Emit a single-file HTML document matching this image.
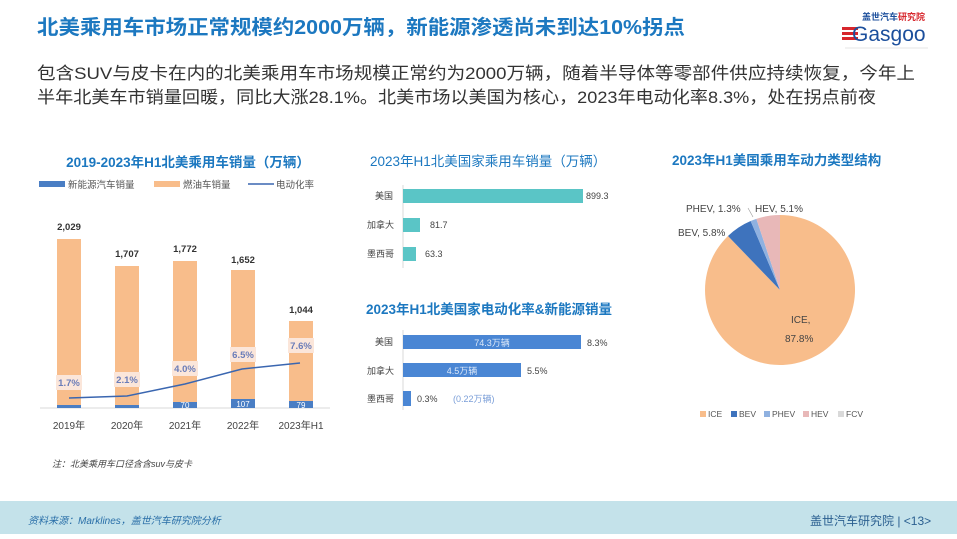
<!DOCTYPE html>
<html><head><meta charset="utf-8"><style>
body{margin:0;width:957px;height:534px;overflow:hidden;background:#fff;font-family:"Liberation Sans","Noto Sans CJK SC",sans-serif;}
svg text{font-family:"Liberation Sans","Noto Sans CJK SC",sans-serif;}
</style></head><body>
<svg width="957" height="534" viewBox="0 0 957 534" xmlns="http://www.w3.org/2000/svg">
<rect width="957" height="534" fill="#fff"/>
<!-- header -->
<text x="37" y="34" font-size="20" font-weight="bold" fill="#1c78c0" textLength="648" lengthAdjust="spacingAndGlyphs">北美乘用车市场正常规模约2000万辆，新能源渗透尚未到达10%拐点</text>
<text x="862" y="20" font-size="9" font-weight="bold" fill="#1c4f9c">盖世汽车<tspan fill="#d7262c">研究院</tspan></text>
<rect x="842" y="27" width="16" height="3" fill="#d7262c"/><rect x="842" y="32" width="16" height="3" fill="#d7262c"/><rect x="842" y="37" width="16" height="3" fill="#d7262c"/>
<text x="852" y="41" font-size="21" fill="#1c4f9c" font-family="Liberation Serif">Gasgoo</text>
<line x1="845" y1="48" x2="928" y2="48" stroke="#ccc" stroke-width="0.6"/>
<text x="37" y="79" font-size="17" fill="#333" textLength="878" lengthAdjust="spacingAndGlyphs">包含SUV与皮卡在内的北美乘用车市场规模正常约为2000万辆，随着半导体等零部件供应持续恢复，今年上</text>
<text x="37" y="103" font-size="17" fill="#333" textLength="839" lengthAdjust="spacingAndGlyphs">半年北美车市销量回暖，同比大涨28.1%。北美市场以美国为核心，2023年电动化率8.3%，处在拐点前夜</text>

<!-- left chart -->
<text x="188" y="167" font-size="13.5" font-weight="bold" fill="#1c78c0" text-anchor="middle">2019-2023年H1北美乘用车销量（万辆）</text>
<rect x="39" y="181" width="26" height="6" fill="#4a7ec4"/><text x="68" y="188" font-size="9.5" fill="#555">新能源汽车销量</text>
<rect x="154" y="181" width="26" height="6" fill="#f8bd8b"/><text x="183" y="188" font-size="9.5" fill="#555">燃油车销量</text>
<line x1="248" y1="184" x2="274" y2="184" stroke="#3a66b0" stroke-width="1.5"/><text x="276" y="188" font-size="9.5" fill="#555">电动化率</text>
<line x1="40" y1="408" x2="330" y2="408" stroke="#d9d9d9"/>
<g fill="#f8bd8b">
<rect x="57" y="239" width="24" height="169"/><rect x="115" y="266" width="24" height="142"/><rect x="173" y="261" width="24" height="147"/><rect x="231" y="270" width="24" height="138"/><rect x="289" y="321" width="24" height="87"/></g>
<g fill="#4a7ec4">
<rect x="57" y="405" width="24" height="3"/><rect x="115" y="405" width="24" height="3"/><rect x="173" y="402" width="24" height="6"/><rect x="231" y="399" width="24" height="9"/><rect x="289" y="401" width="24" height="7"/></g>
<g font-size="8" fill="#fff" text-anchor="middle"><text x="185" y="408">70</text><text x="243" y="407">107</text><text x="301" y="408">79</text></g>
<g fill="#fbe6da"><rect x="56" y="375" width="26" height="15"/><rect x="114" y="372" width="26" height="15"/><rect x="172" y="361" width="26" height="15"/><rect x="230" y="347" width="26" height="15"/><rect x="288" y="338" width="26" height="15"/></g>
<g font-size="9.5" font-weight="bold" fill="#6a7cb8" text-anchor="middle"><text x="69" y="386">1.7%</text><text x="127" y="383">2.1%</text><text x="185" y="372">4.0%</text><text x="243" y="358">6.5%</text><text x="301" y="349">7.6%</text></g>
<polyline points="69,398 127,396 185,384 242,369 300,363" fill="none" stroke="#3a66b0" stroke-width="1.5"/>
<g font-size="9.5" font-weight="bold" fill="#333" text-anchor="middle"><text x="69" y="230">2,029</text><text x="127" y="257">1,707</text><text x="185" y="252">1,772</text><text x="243" y="263">1,652</text><text x="301" y="313">1,044</text></g>
<g font-size="10" fill="#444" text-anchor="middle"><text x="69" y="429">2019年</text><text x="127" y="429">2020年</text><text x="185" y="429">2021年</text><text x="243" y="429">2022年</text><text x="301" y="429">2023年H1</text></g>
<text x="52" y="467" font-size="9" fill="#444" font-style="italic">注：北美乘用车口径含含suv与皮卡</text>

<!-- middle charts -->
<text x="370" y="166" font-size="13.5" fill="#1c78c0">2023年H1北美国家乘用车销量（万辆）</text>
<line x1="403" y1="185" x2="403" y2="268" stroke="#d9d9d9"/>
<g fill="#5ac5c6"><rect x="403" y="189" width="180" height="14"/><rect x="403" y="218" width="17" height="14"/><rect x="403" y="247" width="13" height="14"/></g>
<g font-size="9" fill="#444"><text x="375" y="199">美国</text><text x="367" y="228">加拿大</text><text x="367" y="257">墨西哥</text>
<text x="586" y="199">899.3</text><text x="430" y="228">81.7</text><text x="425" y="257">63.3</text></g>
<text x="366" y="314" font-size="13.5" font-weight="bold" fill="#1c78c0">2023年H1北美国家电动化率&amp;新能源销量</text>
<line x1="403" y1="330" x2="403" y2="410" stroke="#d9d9d9"/>
<g fill="#4a86d4"><rect x="403" y="335" width="178" height="14"/><rect x="403" y="363" width="118" height="14"/><rect x="403" y="391" width="8" height="15"/></g>
<g font-size="9" fill="#444"><text x="375" y="345">美国</text><text x="367" y="374">加拿大</text><text x="367" y="402">墨西哥</text>
<text x="587" y="346">8.3%</text><text x="527" y="374">5.5%</text><text x="417" y="402">0.3%</text></g>
<text x="492" y="346" font-size="9" fill="#dce8f8" text-anchor="middle">74.3万辆</text>
<text x="462" y="374" font-size="9" fill="#dce8f8" text-anchor="middle">4.5万辆</text>
<text x="453" y="402" font-size="9" fill="#7a9ed8">(0.22万辆)</text>

<!-- pie -->
<text x="672" y="165" font-size="13.5" font-weight="bold" fill="#1c78c0">2023年H1美国乘用车动力类型结构</text>
<path d="M780,290 L780,215 A75,75 0 1 1 727.97,235.99 Z" fill="#f8bd8b"/>
<path d="M780,290 L727.97,235.99 A75,75 0 0 1 750.64,220.99 Z" fill="#3e73bd"/>
<path d="M780,290 L750.64,220.99 A75,75 0 0 1 756.38,218.82 Z" fill="#8fb1e0"/>
<path d="M780,290 L756.38,218.82 A75,75 0 0 1 780,215 Z" fill="#e8b8b8"/>
<g font-size="10" fill="#444"><text x="686" y="212">PHEV, 1.3%</text><text x="755" y="212">HEV, 5.1%</text><text x="678" y="236">BEV, 5.8%</text>
<text x="791" y="323">ICE,</text><text x="785" y="342">87.8%</text></g>
<line x1="748" y1="208" x2="753" y2="217" stroke="#999" stroke-width="0.6"/>
<g font-size="8.5" fill="#555">
<rect x="700" y="411" width="6" height="6" fill="#f8bd8b"/><text x="708" y="417">ICE</text>
<rect x="731" y="411" width="6" height="6" fill="#3e73bd"/><text x="739" y="417">BEV</text>
<rect x="764" y="411" width="6" height="6" fill="#8fb1e0"/><text x="772" y="417">PHEV</text>
<rect x="803" y="411" width="6" height="6" fill="#e8b8b8"/><text x="811" y="417">HEV</text>
<rect x="838" y="411" width="6" height="6" fill="#d9d9d9"/><text x="846" y="417">FCV</text></g>

<!-- footer -->
<rect x="0" y="501" width="957" height="33" fill="#c4e2ea"/>
<text x="28" y="524" font-size="10" fill="#2a6fa8" font-style="italic">资料来源：Marklines，盖世汽车研究院分析</text>
<text x="810" y="525" font-size="12" fill="#2a5f90">盖世汽车研究院 | &lt;13&gt;</text>
</svg>
</body></html>
